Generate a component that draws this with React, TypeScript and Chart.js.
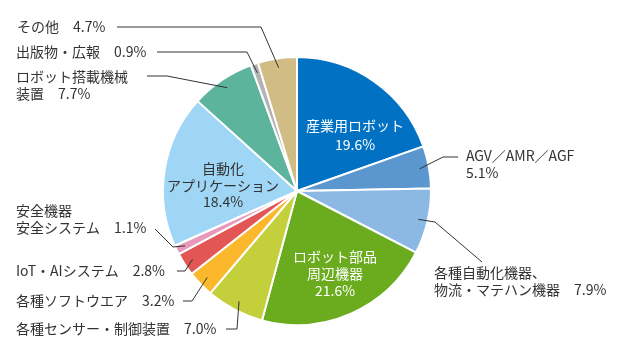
import React, { useEffect, useRef } from "react";
import { Chart, registerables } from "chart.js";

Chart.register(...registerables);

const categories = [
  "産業用ロボット",
  "AGV/AMR/AGF",
  "各種自動化機器、物流・マテハン機器",
  "ロボット部品周辺機器",
  "各種センサー・制御装置",
  "各種ソフトウエア",
  "IoT・AIシステム",
  "安全機器安全システム",
  "自動化アプリケーション",
  "ロボット搭載機械装置",
  "出版物・広報",
  "その他",
];
const shares = [19.6, 5.1, 7.9, 21.6, 7.0, 3.2, 2.8, 1.1, 18.4, 7.7, 0.9, 4.7];
const sliceColors = [
  "#0071c3", "#5b96cf", "#8cb9e4", "#6aac1e", "#c3d03b", "#fbb82d",
  "#e35656", "#e898bb", "#9fd5f5", "#5bb49b", "#b3b3b3", "#d1bc86",
];
const labelLines: string[][] = [
  ["産業用ロボット", "19.6%"],
  ["AGV／AMR／AGF", "5.1%"],
  ["各種自動化機器、", "物流・マテハン機器　7.9%"],
  ["ロボット部品", "周辺機器", "21.6%"],
  ["各種センサー・制御装置　7.0%"],
  ["各種ソフトウエア　3.2%"],
  ["IoT・AIシステム　2.8%"],
  ["安全機器", "安全システム　1.1%"],
  ["自動化", "アプリケーション", "18.4%"],
  ["ロボット搭載機械", "装置　7.7%"],
  ["出版物・広報　0.9%"],
  ["その他　4.7%"],
];

type LabelLayout = {
  x: number;
  y: number;
  lh: number;
  align: CanvasTextAlign;
  color: string;
  path?: number[][];
};

const DARK = "#333333";
const WHITE = "#ffffff";

const layout: LabelLayout[] = [
  { x: 355, y: 126, lh: 19, align: "center", color: WHITE },
  { x: 466, y: 156, lh: 17, align: "left", color: DARK, path: [[458, 157], [443, 157]] },
  { x: 434, y: 273, lh: 17, align: "left", color: DARK, path: [[482, 262], [435, 222]] },
  { x: 335, y: 257, lh: 17, align: "center", color: WHITE },
  { x: 16, y: 329, lh: 17, align: "left", color: DARK, path: [[226, 329], [237, 329]] },
  { x: 16, y: 301, lh: 17, align: "left", color: DARK, path: [[183, 301], [192, 301]] },
  { x: 16, y: 271, lh: 17, align: "left", color: DARK, path: [[177, 271], [185, 271]] },
  { x: 16, y: 211, lh: 17, align: "left", color: DARK, path: [[155, 229], [173, 247]] },
  { x: 223, y: 169, lh: 16.5, align: "center", color: DARK },
  { x: 16, y: 77, lh: 17, align: "left", color: DARK, path: [[147, 76], [167, 76]] },
  { x: 16, y: 52, lh: 17, align: "left", color: DARK, path: [[157, 52], [247, 52]] },
  { x: 17, y: 27, lh: 17, align: "left", color: DARK, path: [[117, 27], [261, 27]] },
];

const FONT = '14px "Noto Sans CJK JP", "Noto Sans", sans-serif';

const labelPlugin = {
  id: "pieLabels",
  afterDraw(chart: any) {
    const ctx = chart.ctx as CanvasRenderingContext2D;
    const meta = chart.getDatasetMeta(0);
    ctx.save();
    ctx.font = FONT;
    ctx.textBaseline = "middle";
    meta.data.forEach((arc: any, i: number) => {
      const L = layout[i];
      const lines = labelLines[i];
      if (!L) return;
      if (L.path) {
        const mid = (arc.startAngle + arc.endAngle) / 2;
        const r = arc.outerRadius * 0.93;
        const ax = arc.x + Math.cos(mid) * r;
        const ay = arc.y + Math.sin(mid) * r;
        ctx.strokeStyle = "#333333";
        ctx.lineWidth = 1;
        ctx.beginPath();
        ctx.moveTo(L.path[0][0], L.path[0][1]);
        for (let k = 1; k < L.path.length; k++) ctx.lineTo(L.path[k][0], L.path[k][1]);
        ctx.lineTo(ax, ay);
        ctx.stroke();
      }
      ctx.fillStyle = L.color;
      ctx.textAlign = L.align;
      lines.forEach((t, k) => ctx.fillText(t, L.x, L.y + k * L.lh));
    });
    ctx.restore();
  },
};

export default function App() {
  const ref = useRef<HTMLCanvasElement | null>(null);
  useEffect(() => {
    if (!ref.current) return;
    const chart = new Chart(ref.current, {
      type: "pie",
      data: {
        labels: categories,
        datasets: [
          {
            data: shares,
            backgroundColor: sliceColors,
            borderColor: "#ffffff",
            borderWidth: 2,
          },
        ],
      },
      options: {
        responsive: false,
        animation: false,
        layout: { padding: { left: 162, right: 188, top: 56, bottom: 34 } },
        plugins: { legend: { display: false }, tooltip: { enabled: false } },
      },
      plugins: [labelPlugin],
    });
    return () => chart.destroy();
  }, []);
  return (
    <div style={{ position: "fixed", left: 0, top: 0, width: 620, height: 360, background: "#fff" }}>
      <canvas ref={ref} width={620} height={360} style={{ width: 620, height: 360 }} />
    </div>
  );
}
